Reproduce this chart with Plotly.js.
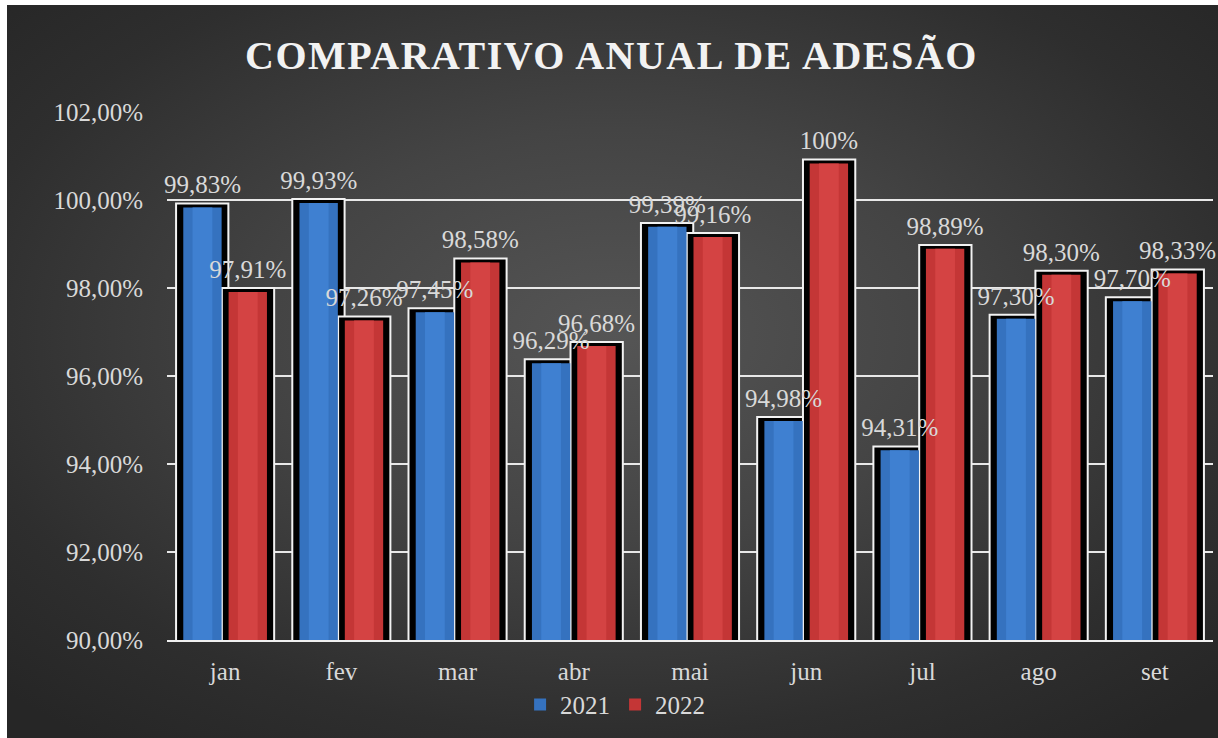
<!DOCTYPE html>
<html>
<head>
<meta charset="utf-8">
<script src="https://cdn.plot.ly/plotly-3.0.1.min.js"></script>
<style>
  html, body { margin: 0; padding: 0; background: #ffffff; width: 1218px; height: 738px; overflow: hidden; }
  #bg { position: absolute; left: 7px; top: 5px; width: 1211px; height: 733px;
        background: radial-gradient(ellipse 70% 70% at 50% 45%, #555555 0%, #444444 40%, #2e2e2e 78%, #262626 100%); }
  #chart { position: absolute; left: 0; top: 0; width: 1218px; height: 738px; }
  .gtitle { letter-spacing: 1.5px; }
</style>
</head>
<body>
<div id="bg"></div>
<div id="chart"></div>
<script>
const months = ['jan', 'fev', 'mar', 'abr', 'mai', 'jun', 'jul', 'ago', 'set'];
const v2021 = [99.83, 99.93, 97.45, 96.29, 99.39, 94.98, 94.31, 97.30, 97.70];
const v2022 = [97.91, 97.26, 98.58, 96.68, 99.16, 100.83, 98.89, 98.30, 98.33];
const labels2021 = ['99,83%', '99,93%', '97,45%', '96,29%', '99,39%', '94,98%', '94,31%', '97,30%', '97,70%'];
const labels2022 = ['97,91%', '97,26%', '98,58%', '96,68%', '99,16%', '100%', '98,89%', '98,30%', '98,33%'];

const FONT = 'Liberation Serif, Times New Roman, serif';
const LBL = '#d9d9d9';

function back(vals, off) {
  return { type: 'bar', x: months, y: vals, yaxis: 'y', width: 0.45, offset: off,
    marker: { color: '#000000', line: { color: '#f2f2f2', width: 2 } },
    hoverinfo: 'skip', showlegend: false };
}
function front(vals, off, color, name) {
  return { type: 'bar', x: months, y: vals, yaxis: 'y2', width: 0.33, offset: off, name: name,
    marker: { color: color, line: { width: 0 } } };
}
function hi(vals, off, color) {
  return { type: 'bar', x: months, y: vals, yaxis: 'y2', width: 0.17, offset: off,
    marker: { color: color, line: { width: 0 } }, hoverinfo: 'skip', showlegend: false };
}
function lab(vals, off, labels) {
  return { type: 'bar', x: months, y: vals, yaxis: 'y3', width: 0.33, offset: off,
    marker: { color: 'rgba(0,0,0,0)', line: { width: 0 } },
    text: labels, textposition: 'outside', cliponaxis: false, constraintext: 'none',
    textfont: { family: FONT, size: 25, color: LBL }, hoverinfo: 'skip', showlegend: false };
}

const data = [
  back(v2021, -0.422),
  back(v2022, -0.028),
  front(v2021, -0.36, '#3572bf', '2021'),
  hi(v2021, -0.28, '#3f80d1'),
  front(v2022, 0.03, '#c43636', '2022'),
  hi(v2022, 0.11, '#d44343'),
  lab(v2021, -0.36, labels2021),
  lab(v2022, 0.03, labels2022)
];

const layout = {
  width: 1218, height: 738,
  paper_bgcolor: 'rgba(0,0,0,0)', plot_bgcolor: 'rgba(0,0,0,0)',
  margin: { l: 167, r: 5, t: 112, b: 98 },
  barmode: 'overlay',
  separators: ', ',
  font: { family: FONT, size: 25, color: LBL },
  title: { text: 'COMPARATIVO ANUAL DE ADESÃO', x: 0.502, xanchor: 'center', y: 0.925, yanchor: 'middle',
           font: { family: FONT, size: 40, color: '#f2f2f2', weight: 'bold' } },
  xaxis: { type: 'category', showgrid: false, zeroline: false, showline: true, linecolor: '#f0f0f0', linewidth: 2,
           ticks: 'outside', ticklen: 8, tickcolor: 'rgba(0,0,0,0)',
           tickfont: { family: FONT, size: 25, color: LBL } },
  yaxis: { range: [89.91, 101.91], visible: false, fixedrange: true },
  yaxis2: { overlaying: 'y', side: 'left', range: [90, 102], dtick: 2, tick0: 90,
            tickformat: '.2f', ticksuffix: '%', showgrid: true, gridcolor: '#e8e8e8', gridwidth: 2,
            zeroline: false, showline: false, ticks: 'outside', ticklen: 18, tickcolor: 'rgba(0,0,0,0)',
            tickfont: { family: FONT, size: 25, color: LBL } },
  yaxis3: { overlaying: 'y', range: [89.86, 101.86], visible: false, fixedrange: true },
  legend: { orientation: 'h', xref: 'container', x: 0.505, xanchor: 'center', yref: 'container', y: 0.045, yanchor: 'middle',
            font: { family: FONT, size: 25, color: LBL }, bgcolor: 'rgba(0,0,0,0)', traceorder: 'normal' },
  showlegend: true
};

Plotly.newPlot('chart', data, layout, { displayModeBar: false, staticPlot: true });
</script>
</body>
</html>
